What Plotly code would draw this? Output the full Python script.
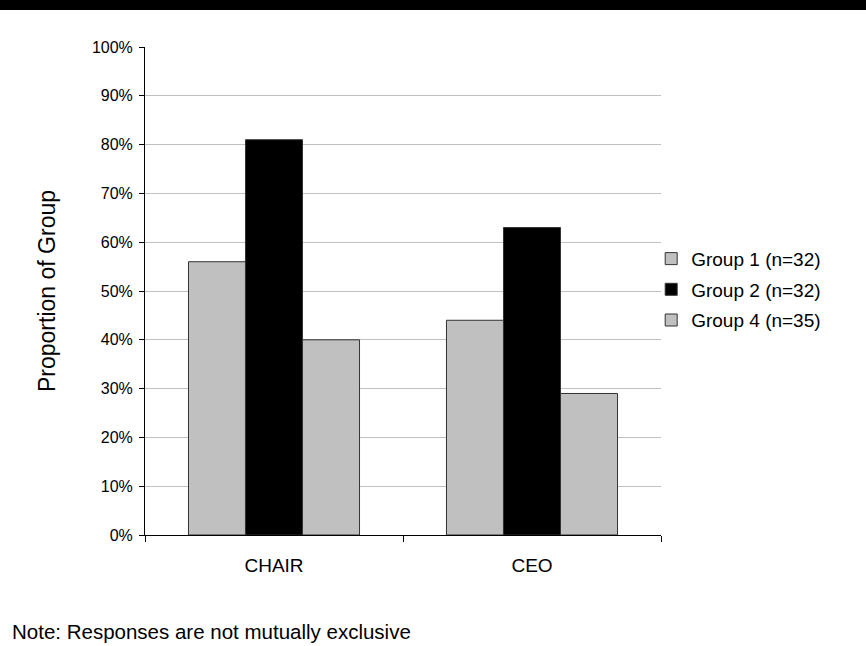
import plotly.graph_objects as go

categories = ["CHAIR", "CEO"]
series_names = ["Group 1 (n=32)", "Group 2 (n=32)", "Group 4 (n=35)"]
group1 = [0.56, 0.44]
group2 = [0.81, 0.63]
group4 = [0.40, 0.29]
y_ticks = [0, 0.1, 0.2, 0.3, 0.4, 0.5, 0.6, 0.7, 0.8, 0.9, 1.0]
y_tick_labels = ["0%", "10%", "20%", "30%", "40%", "50%", "60%", "70%", "80%", "90%", "100%"]
note_text = "Note: Responses are not mutually exclusive"

colors = ["#c0c0c0", "#000000", "#c0c0c0"]
font_fam = "Arial, Liberation Sans, sans-serif"

fig = go.Figure()
for i, (name, vals, col) in enumerate(zip(series_names, [group1, group2, group4], colors)):
    fig.add_trace(go.Bar(
        x=categories, y=vals, name=name, legendgroup=f"g{i}",
        marker=dict(color=col, line=dict(color="#333333", width=1)),
    ))

fig.update_layout(
    width=866, height=646,
    margin=dict(l=144.5, r=205, t=47, b=111, pad=0),
    paper_bgcolor="white", plot_bgcolor="white",
    barmode="group", bargap=0.337, bargroupgap=0,
    font=dict(family=font_fam, color="black", size=16),
    showlegend=True,
    legend=dict(x=0.981, y=0.605, xanchor="left", yanchor="top",
                font=dict(size=19, family=font_fam), bgcolor="rgba(0,0,0,0)",
                tracegroupgap=3, itemwidth=30),
    xaxis=dict(
        showline=True, linecolor="black", linewidth=1,
        ticks="outside", ticklen=6, tickcolor="black", tickson="boundaries",
        tickfont=dict(size=19), showgrid=False, ticklabelstandoff=13,
    ),
    yaxis=dict(
        range=[0, 1], tickvals=y_ticks, ticktext=y_tick_labels,
        showline=True, linecolor="black", linewidth=1,
        ticks="outside", ticklen=5, tickcolor="black",
        showgrid=True, gridcolor="#c0c0c0", gridwidth=1, zeroline=False,
        tickfont=dict(size=16), ticklabelstandoff=3,
        title=dict(text="Proportion of Group", font=dict(size=23), standoff=29),
        automargin=False,
    ),
    shapes=[dict(type="rect", xref="paper", yref="paper",
                 x0=-0.3, x1=1.5, y0=1 + 37/488, y1=1.2,
                 fillcolor="black", line=dict(width=0), layer="above")],
    annotations=[dict(text=note_text, xref="paper", yref="paper",
                      x=-0.2623, y=-0.197, xanchor="left", yanchor="middle",
                      showarrow=False, font=dict(size=20.5, family=font_fam))],
)

fig.write_html("out.html", config={"displayModeBar": False},
               post_script="document.body.style.margin='0';document.body.style.padding='0';")
